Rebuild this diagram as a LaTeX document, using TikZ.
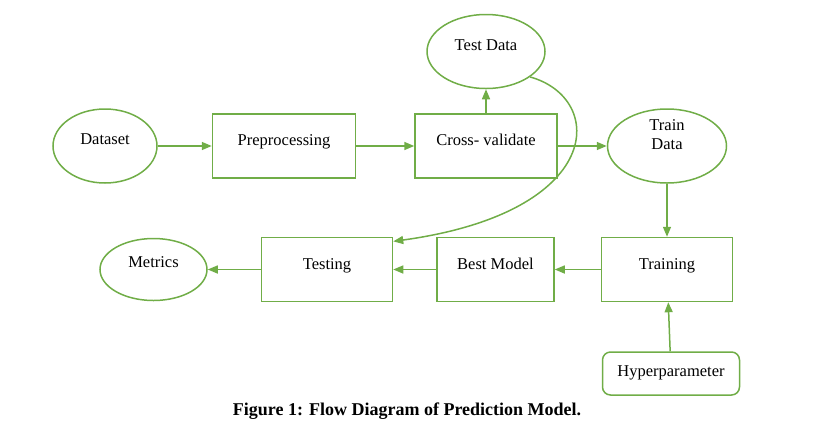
\documentclass[tikz,border=0pt]{standalone}
\usepackage{fontspec}
\setmainfont{Liberation Serif}
\usetikzlibrary{positioning,shapes.geometric,arrows.meta}
\definecolor{leaf}{HTML}{70AD47}
\tikzset{
  box/.style={draw=leaf,line width=1.5pt,rectangle,minimum height=64pt,inner sep=0pt,text height=11pt,text depth=12pt,font=\fontsize{16.5}{19}\selectfont},
  blob/.style={draw=leaf,line width=1.5pt,ellipse,minimum height=74pt,inner sep=0pt,text height=11pt,text depth=14pt,font=\fontsize{16.5}{19}\selectfont},
  flow/.style={draw=leaf,line width=1.5pt,-{Triangle[length=10pt,width=8pt]}}
}
\begin{document}
\begin{tikzpicture}[x=1pt,y=-1pt]
\useasboundingbox (0,0) rectangle (813,437);
\node[blob,minimum width=104pt] at (105,146) (d) {Dataset};
\node[box,minimum width=143pt, right=54pt of d](p){Preprocessing};
\node[box,minimum width=142pt, right=58pt of p](cv){Cross- validate};
\node[blob,minimum width=118pt, above=24pt of cv](td){Test Data};
\node[blob,minimum width=119pt, right=49pt of cv,align=center,text depth=4pt](tr){Train\\Data};
\node[box,minimum width=131pt, below=53pt of tr](tg){Training};
\node[box,minimum width=117pt, left=46pt of tg](bm){Best Model};
\node[box,minimum width=131pt, left=43pt of bm](ts){Testing};
\node[blob,minimum width=107pt,minimum height=62pt,text depth=16pt, left=53pt of ts](m){Metrics};
\node[box,minimum width=137pt,minimum height=43pt,text depth=6pt,rounded corners=8pt, below=49pt of tg,xshift=4pt](h){Hyperparameter};
\node[font=\fontsize{18}{20}\selectfont\bfseries] at (407,411) (cap){Figure 1: Flow Diagram of Prediction Model.};
\path[flow] (d) -- (p);
\path[flow] (p) -- (cv);
\path[flow] (cv) -- (td);
\path[flow] (cv) -- (tr);
\path[flow] (tr) -- (tg);
\path[flow] (h) -- (tg);
\path[flow] (tg) -- (bm);
\path[flow] (bm) -- (ts);
\path[flow] (ts) -- (m);
\path[flow] (td.-30) .. controls (606,98) and (606,212) .. (ts.23);
\end{tikzpicture}
\end{document}
